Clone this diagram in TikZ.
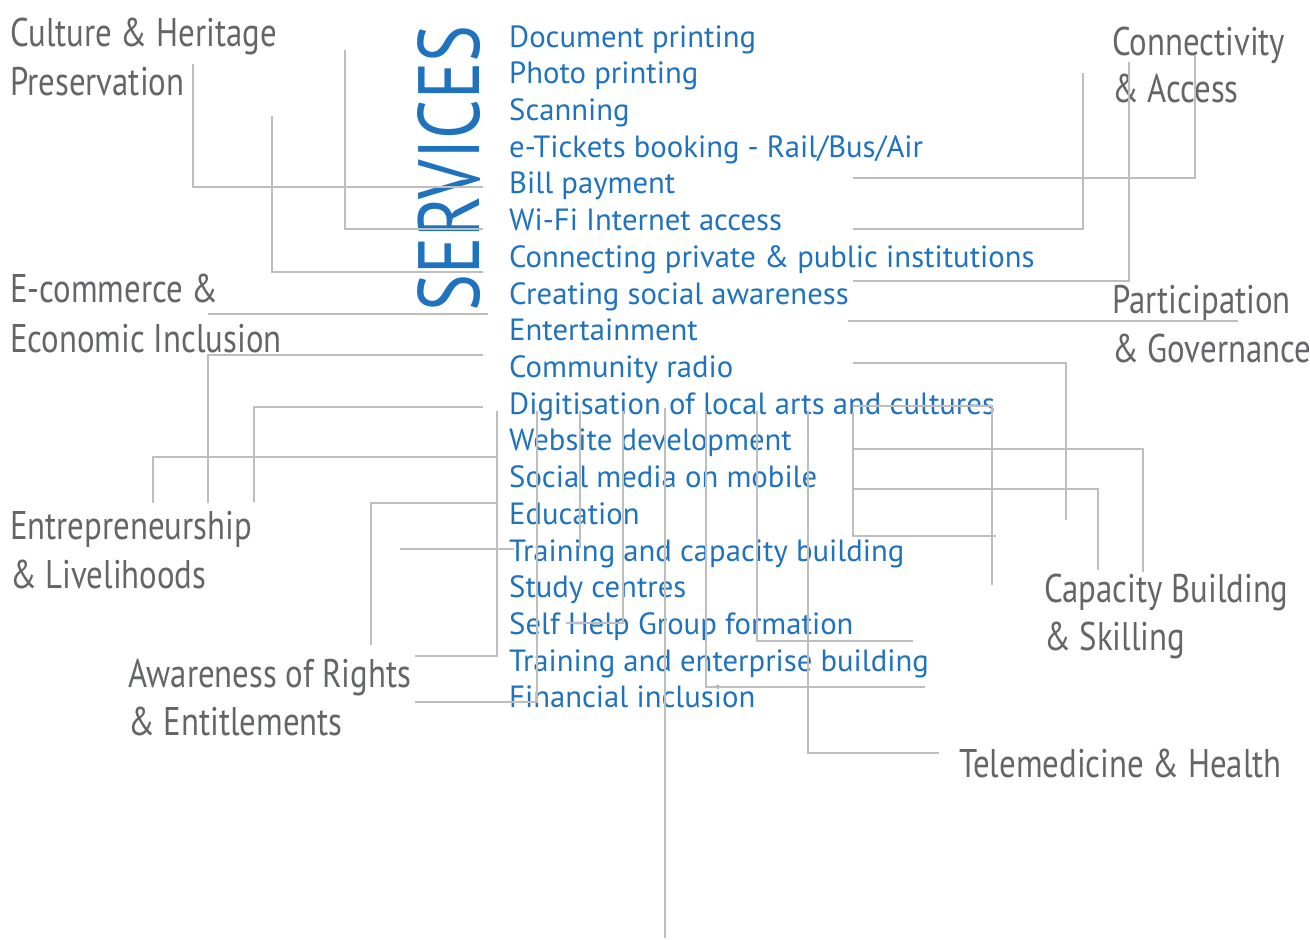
\documentclass[tikz,border=0pt]{standalone}
\usepackage{fontspec}
\setmainfont{PT Sans}
\newfontfamily\catfont[FakeStretch=0.82]{PT Sans}
\newfontfamily\servfont[FakeStretch=0.8]{PT Sans}
\definecolor{svcblue}{HTML}{1F72BD}
\definecolor{catgray}{HTML}{646569}
\definecolor{linegray}{HTML}{BEBEBE}
\begin{document}
\begin{tikzpicture}[x=1pt,y=-1pt,
  svc/.style={anchor=base west, inner sep=0pt, text=svcblue, font=\fontsize{30.7}{36}\selectfont},
  cat/.style={anchor=base west, inner sep=0pt, text=catgray, font=\catfont\fontsize{40}{48}\selectfont},
  conn/.style={draw=linegray, line width=1.5pt}]
\useasboundingbox (0,0) rectangle (1310,940);
% services
\foreach \t [count=\i from 0] in {Document printing, Photo printing, Scanning,
  e-Tickets booking - Rail/Bus/Air, Bill payment, Wi-Fi Internet access,
  Connecting private \& public institutions, Creating social awareness,
  Entertainment, Community radio, Digitisation of local arts and cultures,
  Website development, Social media on mobile, Education,
  Training and capacity building, Study centres, Self Help Group formation,
  Training and enterprise building, Financial inclusion}
  \node[svc] (s\i) at (509,{47+36.72*\i}) {\t};
\node[rotate=90, anchor=base west, inner sep=0pt, text=svcblue,
  font=\servfont\fontsize{87}{87}\selectfont] (serv) at (479,312) {SERVICES};
% categories
\node[cat] (cul1) at (10,46) {Culture \& Heritage};
\node[cat] (cul2) at (10,95) {Preservation};
\node[cat] (eco1) at (10,302) {E-commerce \&};
\node[cat] (eco2) at (10,352) {Economic Inclusion};
\node[cat] (ent1) at (10,539) {Entrepreneurship};
\node[cat] (ent2) at (10,588) {\& Livelihoods};
\node[cat] (awa1) at (128,687) {Awareness of Rights};
\node[cat] (awa2) at (128,735) {\& Entitlements};
\node[cat] (con1) at (1112,55) {Connectivity};
\node[cat] (con2) at (1112,102) {\& Access};
\node[cat] (par1) at (1112,313) {Participation};
\node[cat] (par2) at (1112,362) {\& Governance};
\node[cat] (cap1) at (1044,602) {Capacity Building};
\node[cat] (cap2) at (1044,650) {\& Skilling};
\node[cat] (tel) at (959,777) {Telemedicine \& Health};
% connectors
\draw[conn] (193,64) -- (193,187) -- (483,187);
\draw[conn] (345,50) -- (345,229) -- (483,229);
\draw[conn] (272,116) -- (272,272) -- (483,272);
\draw[conn] (208,314) -- (488,314);
\draw[conn] (483,355) -- (208,355) -- (208,503);
\draw[conn] (483,407) -- (254,407) -- (254,502);
\draw[conn] (496,457) -- (153,457) -- (153,503);
\draw[conn] (496,503) -- (371,503) -- (371,645);
\draw[conn] (400,549) -- (514,549);
\draw[conn] (497,411) -- (497,656) -- (415,656);
\draw[conn] (537,411) -- (537,702) -- (415,702);
\draw[conn] (580,411) -- (580,548);
\draw[conn] (623,411) -- (623,623) -- (566,623);
\draw[conn] (665,408) -- (665,938);
\draw[conn] (706,411) -- (706,687) -- (925,687);
\draw[conn] (757,411) -- (757,641) -- (913,641);
\draw[conn] (808,411) -- (808,753) -- (939,753);
\draw[conn] (853,412) -- (853,536) -- (996,536);
\draw[conn] (853,406) -- (992,406) -- (992,585);
\draw[conn] (853,449) -- (1143,449) -- (1143,572);
\draw[conn] (853,489) -- (1098,489) -- (1098,570);
\draw[conn] (853,178) -- (1195,178) -- (1195,55);
\draw[conn] (853,229) -- (1083,229) -- (1083,73);
\draw[conn] (853,281) -- (1129,281) -- (1129,62);
\draw[conn] (848,321) -- (1238,321);
\draw[conn] (853,363) -- (1066,363) -- (1066,520);
\end{tikzpicture}
\end{document}
